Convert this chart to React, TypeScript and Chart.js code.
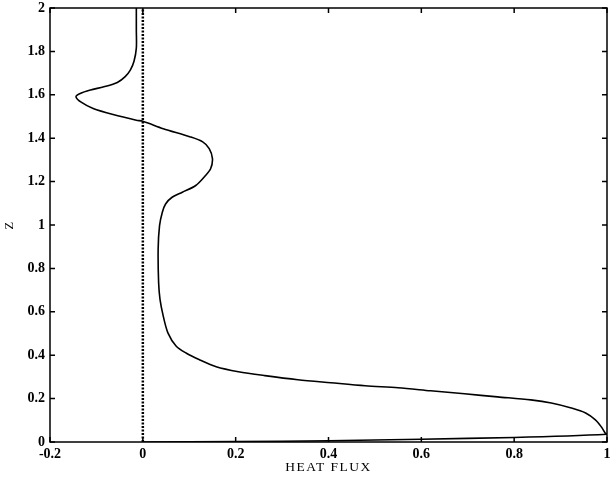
import { useEffect, useRef } from "react";
import { Chart, registerables } from "chart.js";

Chart.register(...registerables);

// Horizontally averaged heat flux profile against height z
const fluxValues = [
  -0.014, -0.014, -0.014, -0.019, -0.027, -0.038, -0.055, -0.084, -0.113, -0.135, -0.144,
  -0.132, -0.107, -0.064, -0.014, 0.0, 0.044, 0.101, 0.129, 0.143, 0.15, 0.146, 0.135,
  0.114, 0.085, 0.063, 0.049, 0.042, 0.036, 0.033, 0.034, 0.037, 0.044, 0.054, 0.072,
  0.093, 0.121, 0.158, 0.206, 0.263, 0.334, 0.405, 0.479, 0.55, 0.62, 0.693, 0.764,
  0.836, 0.88, 0.923, 0.954, 0.975, 0.988, 0.996, 1.0,
  0.8, 0.6, 0.4, 0.2, 0.0,
];
const fluxHeights = [
  2.0, 1.9, 1.815, 1.755, 1.714, 1.684, 1.657, 1.637, 1.622, 1.606, 1.591,
  1.565, 1.537, 1.509, 1.483, 1.478, 1.444, 1.407, 1.383, 1.352, 1.306, 1.259, 1.228,
  1.182, 1.151, 1.128, 1.097, 1.059, 0.997, 0.889, 0.735, 0.657, 0.58, 0.503, 0.441,
  0.41, 0.38, 0.347, 0.324, 0.306, 0.287, 0.273, 0.259, 0.25, 0.236, 0.222, 0.208,
  0.194, 0.18, 0.157, 0.134, 0.102, 0.069, 0.042, 0.036,
  0.021, 0.013, 0.006, 0.0015, 0.0,
];

// Zero-flux reference line
const referenceFlux = [0, 0];
const referenceHeights = [0, 2];

const xTickValues = [-0.2, 0, 0.2, 0.4, 0.6, 0.8, 1];
const yTickValues = [0, 0.2, 0.4, 0.6, 0.8, 1, 1.2, 1.4, 1.6, 1.8, 2];

const serif = "'Liberation Serif', 'Times New Roman', serif";
const fmt = (v: number) => String(Number(v.toFixed(2)));

// Axis titles are drawn in the layer before the datasets; give them spaced lettering
const titleSpacingPlugin = {
  id: "titleSpacing",
  beforeDraw(chart: any) {
    chart.ctx.letterSpacing = "1.5px";
  },
  beforeDatasetsDraw(chart: any) {
    chart.ctx.letterSpacing = "0px";
  },
};

// Box around the plot with inward-pointing tick marks on all four sides
const framePlugin = {
  id: "frame",
  afterDatasetsDraw(chart: any) {
    const { ctx, chartArea: a, scales } = chart;
    const x = scales.x;
    const y = scales.y;
    const len = 5;
    ctx.save();
    ctx.strokeStyle = "#000";
    ctx.lineWidth = 1.5;
    ctx.strokeRect(a.left, a.top, a.right - a.left, a.bottom - a.top);
    ctx.beginPath();
    x.ticks.forEach((t: any) => {
      const px = x.getPixelForValue(t.value);
      ctx.moveTo(px, a.bottom);
      ctx.lineTo(px, a.bottom - len);
      ctx.moveTo(px, a.top);
      ctx.lineTo(px, a.top + len);
    });
    y.ticks.forEach((t: any) => {
      const py = y.getPixelForValue(t.value);
      ctx.moveTo(a.left, py);
      ctx.lineTo(a.left + len, py);
      ctx.moveTo(a.right, py);
      ctx.lineTo(a.right - len, py);
    });
    ctx.stroke();
    ctx.restore();
  },
};

export default function App() {
  const canvasRef = useRef<HTMLCanvasElement | null>(null);

  useEffect(() => {
    const canvas = canvasRef.current;
    if (!canvas) return;
    const chart = new Chart(canvas, {
      type: "scatter",
      data: {
        datasets: [
          {
            label: "heat flux",
            data: fluxValues.map((v, i) => ({ x: v, y: fluxHeights[i] })),
            showLine: true,
            borderColor: "#000",
            borderWidth: 1.6,
            pointRadius: 0,
            tension: 0.3,
            fill: false,
          },
          {
            label: "zero",
            data: referenceFlux.map((v, i) => ({ x: v, y: referenceHeights[i] })),
            showLine: true,
            borderColor: "#000",
            borderWidth: 2.5,
            borderDash: [2, 1.5],
            pointRadius: 0,
            fill: false,
          },
        ],
      },
      options: {
        responsive: false,
        animation: false,
        devicePixelRatio: 1,
        layout: { padding: { top: 8, right: 3, left: 0, bottom: 0 } },
        plugins: {
          legend: { display: false },
          tooltip: { enabled: false },
        },
        scales: {
          x: {
            type: "linear",
            min: -0.2,
            max: 1,
            grid: { display: false, drawTicks: false },
            border: { display: false },
            afterBuildTicks: (s: any) => {
              s.ticks = xTickValues.map((v) => ({ value: v }));
            },
            afterFit: (s: any) => {
              s.height = 37;
              s.paddingLeft = 0;
              s.paddingRight = 0;
            },
            ticks: {
              z: 1,
              autoSkip: false,
              maxRotation: 0,
              padding: 4,
              color: "#000",
              font: { family: serif, size: 14, weight: "bold" },
              callback: (v: any) => fmt(Number(v)),
            },
            title: {
              display: true,
              text: "HEAT FLUX",
              color: "#000",
              font: { family: serif, size: 13.5 },
              padding: { top: 0, bottom: 3.6 },
            },
          },
          y: {
            type: "linear",
            min: 0,
            max: 2,
            grid: { display: false, drawTicks: false },
            border: { display: false },
            afterBuildTicks: (s: any) => {
              s.ticks = yTickValues.map((v) => ({ value: v }));
            },
            afterFit: (s: any) => {
              s.width = 50;
              s.paddingTop = 0;
              s.paddingBottom = 0;
            },
            ticks: {
              z: 1,
              autoSkip: false,
              padding: 5,
              color: "#000",
              font: { family: serif, size: 14, weight: "bold" },
              callback: (v: any) => fmt(Number(v)),
            },
            title: {
              display: true,
              text: "Z",
              color: "#000",
              font: { family: serif, size: 12.5 },
              padding: { top: 2, bottom: 0 },
            },
          },
        },
      },
      plugins: [titleSpacingPlugin, framePlugin],
    });
    return () => chart.destroy();
  }, []);

  return (
    <div style={{ position: "absolute", left: 0, top: 0, width: 610, height: 479, background: "#fff" }}>
      <canvas ref={canvasRef} width={610} height={479} style={{ display: "block" }} />
    </div>
  );
}
